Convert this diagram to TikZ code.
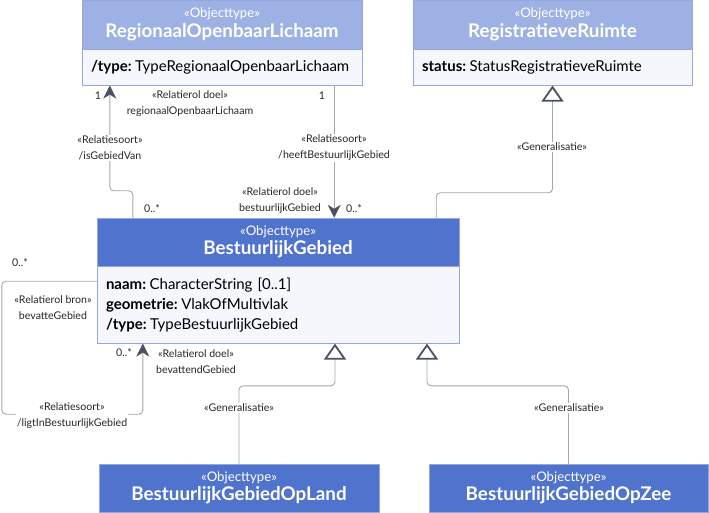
\documentclass[tikz,border=0pt]{standalone}
\usepackage{fontspec}
\setmainfont{Lato}
\usetikzlibrary{positioning,arrows.meta}

\definecolor{hdrlight}{HTML}{9DB1E4}
\definecolor{hdrdark}{HTML}{5073CE}
\definecolor{bodyfill}{HTML}{F5F7FC}
\definecolor{boxline}{HTML}{93A8E0}
\definecolor{connline}{HTML}{A6A6A6}
\definecolor{tipdark}{HTML}{4A5163}

\newcommand{\stereo}{{\fontsize{13.2}{13}\selectfont «Objecttype»}}
\newcommand{\clname}[1]{{\fontsize{18.8}{18}\selectfont\bfseries #1}}
\newcommand{\attr}[2]{\textbf{#1:}\kern3.5pt#2}

\tikzset{
  hdr/.style={draw=boxline, text=white, align=center, inner sep=0pt,
    font=\fontsize{11}{18}\selectfont},
  lighthdr/.style={hdr, fill=hdrlight},
  darkhdr/.style={hdr, fill=hdrdark},
  attrs/.style={draw=boxline, fill=bodyfill, inner xsep=9pt, inner ysep=0pt,
    align=left, font=\fontsize{15}{20}\selectfont},
  conn/.style={draw=connline, line width=0.9pt, rounded corners=4pt},
  assoc/.style={conn, -{Stealth[length=13pt, width=13pt, inset=4pt, color=tipdark]}},
  gener/.style={conn, -{Triangle[open, length=16pt, width=22pt, line width=1.8pt, color=tipdark, fill=white]}},
  lbl/.style={font=\fontsize{10.6}{16}\selectfont, align=center, inner sep=1pt, text=black!85},
  lblbg/.style={lbl, fill=white}
}

\begin{document}
\begin{tikzpicture}[x=1pt, y=-1pt]
  \useasboundingbox (0,0) rectangle (709,513);

  % classes
  \node[lighthdr, minimum width=280pt, minimum height=49pt] (rol) at (222,24.5)
    {\stereo\\[1.5pt]\clname{RegionaalOpenbaarLichaam}};
  \node[attrs, text width=262pt, minimum height=36pt, below=0pt of rol] (rolb)
    {\attr{/type}{TypeRegionaalOpenbaarLichaam}};

  \node[lighthdr, minimum width=279pt, minimum height=49pt] (rr) at (552.5,24.5)
    {\stereo\\[1.5pt]\clname{RegistratieveRuimte}};
  \node[attrs, text width=261pt, minimum height=36pt, below=0pt of rr] (rrb)
    {\attr{status}{StatusRegistratieveRuimte}};

  \node[darkhdr, minimum width=362pt, minimum height=48pt] (bg) at (278,242)
    {\stereo\\[1.5pt]\clname{BestuurlijkGebied}};
  \node[attrs, text width=344pt, minimum height=77pt, below=0pt of bg] (bgb)
    {\attr{naam}{CharacterString [0..1]}\\
     \attr{geometrie}{VlakOfMultivlak}\\
     \attr{/type}{TypeBestuurlijkGebied}};

  \node[darkhdr, minimum width=280pt, minimum height=48pt] (bgol) at (239,488)
    {\stereo\\[1.5pt]\clname{BestuurlijkGebiedOpLand}};
  \node[darkhdr, minimum width=279pt, minimum height=48pt] (bgoz) at (568.5,488)
    {\stereo\\[1.5pt]\clname{BestuurlijkGebiedOpZee}};

  % connectors
  \coordinate (hbg) at ([xshift=-28pt]rolb.south east);
  \draw[assoc] ([xshift=36pt]bg.north west) -- ++(0,-27) -| ([xshift=28pt]rolb.south west);
  \draw[assoc] (hbg) -- (hbg |- bg.north);
  \draw[gener] ([xshift=-23pt]bg.north east) -- ++(0,-25) -| (rrb.south);
  \draw[assoc] ([yshift=-15pt]bgb.north west) -- ++(-95,0) -- ++(0,133)
    -| ([xshift=46pt]bgb.south west);
  \draw[gener] (bgol.north) -- ++(0,-78) -| ([xshift=57pt]bgb.south);
  \draw[gener] (bgoz.north) -- ++(0,-78) -| ([xshift=149pt]bgb.south);

  % labels
  \node[lblbg] (isvan) at (110,148) {«Relatiesoort»\\/isGebiedVan};
  \node[lblbg] (heeft) at (334,148) {«Relatiesoort»\\/heeftBestuurlijkGebied};
  \node[lblbg] (ligtin) at (72,416) {«Relatiesoort»\\/ligtInBestuurlijkGebied};
  \node[lbl] (doelrol) at (190,103.5) {«Relatierol doel»\\regionaalOpenbaarLichaam};
  \node[lbl] (doelbg) at (280,201) {«Relatierol doel»\\bestuurlijkGebied};
  \node[lbl] (bronbev) at (53,308) {«Relatierol bron»\\bevatteGebied};
  \node[lbl] (doelbev) at (196,361.5) {«Relatierol doel»\\bevattendGebied};
  \node[lblbg] (genrr) at (552,147) {«Generalisatie»};
  \node[lblbg] (genland) at (239,408) {«Generalisatie»};
  \node[lblbg] (genzee) at (569,408) {«Generalisatie»};

  % multiplicities
  \node[lbl] (m1) at (98,96) {1};
  \node[lbl] (m2) at (322,96) {1};
  \node[lbl] (m3) at (152,209) {0..*};
  \node[lbl] (m4) at (354,209) {0..*};
  \node[lbl] (m5) at (20,263) {0..*};
  \node[lbl] (m6) at (124,353) {0..*};
\end{tikzpicture}
\end{document}
